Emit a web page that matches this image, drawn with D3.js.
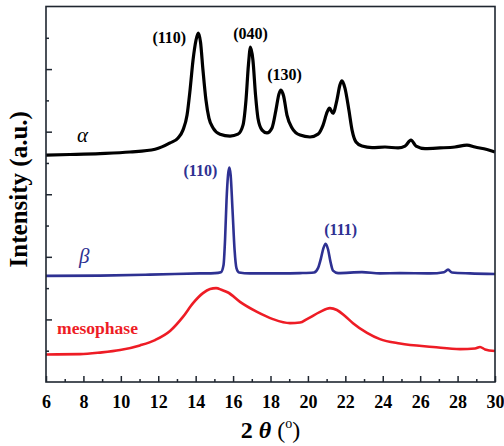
<!DOCTYPE html>
<html>
<head>
<meta charset="utf-8">
<script src="https://cdn.jsdelivr.net/npm/d3@7"></script>
<style>
  html, body { margin: 0; padding: 0; background: #fff; }
  svg { display: block; }
  text { font-family: "Liberation Serif", "Times New Roman", serif; }
</style>
</head>
<body>
<svg id="chart" width="504" height="446"></svg>
<script>
// ---- data (2θ in degrees, intensity in stacked arbitrary units) ----
const alphaTheta = [6.0, 7.28, 8.89, 10.49, 11.83, 12.63, 13.06, 13.32, 13.54, 13.70, 13.86, 14.02, 14.14, 14.26, 14.39, 14.55, 14.71, 14.93, 15.30, 15.84, 16.26, 16.53, 16.69, 16.82, 16.93, 17.06, 17.20, 17.33, 17.55, 17.81, 18.08, 18.29, 18.45, 18.56, 18.70, 18.88, 19.15, 19.58, 20.11, 20.54, 20.81, 21.03, 21.15, 21.34, 21.55, 21.71, 21.82, 21.98, 22.19, 22.36, 22.57, 22.89, 23.43, 24.12, 24.82, 25.19, 25.51, 25.78, 26.26, 27.06, 27.86, 28.50, 28.93, 29.57, 30.0];
const alphaI = [7.25, 7.27, 7.30, 7.35, 7.44, 7.64, 7.80, 8.05, 8.53, 9.33, 10.29, 10.93, 11.15, 10.86, 9.97, 9.01, 8.43, 8.12, 7.92, 7.86, 7.92, 8.21, 9.01, 10.13, 10.70, 10.29, 9.17, 8.43, 8.05, 7.96, 8.12, 8.69, 9.20, 9.33, 9.14, 8.53, 8.12, 7.89, 7.83, 7.92, 8.21, 8.63, 8.75, 8.59, 9.01, 9.49, 9.62, 9.39, 8.69, 8.05, 7.67, 7.54, 7.49, 7.51, 7.48, 7.54, 7.73, 7.54, 7.46, 7.48, 7.51, 7.57, 7.51, 7.43, 7.35];

const betaTheta = [6.0, 8.89, 11.56, 14.23, 15.03, 15.35, 15.49, 15.57, 15.65, 15.73, 15.80, 15.87, 15.97, 16.08, 16.18, 16.32, 16.90, 18.51, 19.58, 20.32, 20.54, 20.70, 20.83, 20.95, 21.07, 21.21, 21.34, 21.61, 22.89, 23.85, 24.92, 26.53, 27.27, 27.49, 27.70, 28.66, 30.0];
const betaI = [3.39, 3.40, 3.43, 3.47, 3.48, 3.51, 3.74, 4.54, 5.81, 6.61, 6.85, 6.61, 5.50, 4.22, 3.64, 3.50, 3.47, 3.47, 3.48, 3.50, 3.64, 3.96, 4.28, 4.42, 4.25, 3.83, 3.56, 3.48, 3.51, 3.47, 3.48, 3.47, 3.51, 3.59, 3.50, 3.47, 3.45];

const mesoTheta = [6.0, 7.82, 8.89, 9.96, 11.02, 11.83, 12.63, 13.32, 13.86, 14.39, 14.77, 15.09, 15.41, 15.73, 16.37, 17.28, 18.13, 19.04, 19.58, 19.95, 20.65, 21.18, 21.55, 21.98, 22.41, 23.16, 23.85, 24.92, 26.69, 28.13, 28.93, 29.20, 29.47, 30.0];
const mesoI = [0.88, 0.89, 0.94, 1.02, 1.17, 1.34, 1.63, 2.08, 2.52, 2.84, 2.97, 3.00, 2.94, 2.86, 2.56, 2.24, 2.01, 1.88, 1.90, 2.01, 2.24, 2.36, 2.30, 2.11, 1.88, 1.57, 1.37, 1.23, 1.12, 1.05, 1.07, 1.12, 1.04, 0.99];

const xMajorTicks = [6, 8, 10, 12, 14, 16, 18, 20, 22, 24, 26, 28, 30];
const xMinorTicks = [7, 9, 11, 13, 15, 17, 19, 21, 23, 25, 27, 29];
const yMajorTicks = [2, 4, 6, 8, 10];
const yMinorTicks = [1, 3, 5, 7, 9, 11];

const seriesNames = ["α", "β", "mesophase"];
const peakLabels = ["(110)", "(040)", "(130)", "(110)", "(111)"];
const peakTheta = [14.14, 16.93, 18.56, 15.80, 20.95];
const peakSeries = [0, 0, 0, 1, 1];

// ---- layout ----
const svg = d3.select("#chart");
const mLeft = 46, mRight = 495, mTop = 6.5, mBottom = 382;
const x = d3.scaleLinear().domain([6, 30]).range([mLeft, mRight]);
const y = d3.scaleLinear().domain([0, 12]).range([mBottom, mTop]);

const colors = ["#000000", "#2e3192", "#ee1c25"];
const widths = [3.2, 2.6, 2.6];
const thetas = [alphaTheta, betaTheta, mesoTheta];
const intens = [alphaI, betaI, mesoI];

const line = d3.line()
  .x(d => x(d[0]))
  .y(d => y(d[1]))
  .curve(d3.curveMonotoneX);

// curves
const g = svg.append("g");
for (let s = 2; s >= 0; s--) {
  const pts = thetas[s].map((t, i) => [t, intens[s][i]]);
  g.append("path")
    .datum(pts)
    .attr("d", line)
    .attr("fill", "none")
    .attr("stroke", colors[s])
    .attr("stroke-width", widths[s])
    .attr("stroke-linejoin", "round");
}

// axes ticks (inside)
const axisColor = "#1f2630";
const xAxisMajor = svg.append("g").attr("transform", `translate(0,${mBottom})`)
  .call(d3.axisBottom(x).tickValues(xMajorTicks).tickSize(-6).tickPadding(13).tickFormat(d3.format("d")));
const xAxisMinor = svg.append("g").attr("transform", `translate(0,${mBottom})`)
  .call(d3.axisBottom(x).tickValues(xMinorTicks).tickSize(-3).tickFormat(""));
const yAxisMajor = svg.append("g").attr("transform", `translate(${mLeft},0)`)
  .call(d3.axisLeft(y).tickValues(yMajorTicks).tickSize(-6).tickFormat(""));
const yAxisMinor = svg.append("g").attr("transform", `translate(${mLeft},0)`)
  .call(d3.axisLeft(y).tickValues(yMinorTicks).tickSize(-3).tickFormat(""));

[xAxisMajor, xAxisMinor, yAxisMajor, yAxisMinor].forEach(a => {
  a.select(".domain").remove();
  a.selectAll(".tick line").attr("stroke", axisColor).attr("stroke-width", 1.5);
});
xAxisMajor.selectAll(".tick text")
  .attr("font-weight", "bold")
  .attr("font-size", 18)
  .attr("fill", "#000");

// frame
svg.append("rect")
  .attr("x", mLeft).attr("y", mTop)
  .attr("width", mRight - mLeft).attr("height", mBottom - mTop)
  .attr("fill", "none")
  .attr("stroke", axisColor)
  .attr("stroke-width", 1.6);

// peak labels (offsets from the peak apex, in px)
const offX = [-29, 0, 3.5, -29, 15];
const offY = [10, -8, -10, 8, -9];
peakLabels.forEach((t, i) => {
  const s = peakSeries[i];
  const idx = thetas[s].indexOf(peakTheta[i]);
  const px = x(peakTheta[i]), py = y(intens[s][idx]);
  svg.append("text")
    .attr("x", px + offX[i]).attr("y", py + offY[i])
    .attr("text-anchor", "middle")
    .attr("font-weight", "bold")
    .attr("font-size", 16)
    .attr("fill", colors[s])
    .text(t);
});

// series names
svg.append("text").attr("x", 77).attr("y", 142)
  .attr("font-style", "italic").attr("font-size", 21).attr("fill", colors[0])
  .text(seriesNames[0]);
svg.append("text").attr("x", 79).attr("y", 263)
  .attr("font-style", "italic").attr("font-size", 21).attr("fill", colors[1])
  .text(seriesNames[1]);
svg.append("text").attr("x", 57).attr("y", 334)
  .attr("font-weight", "bold").attr("font-size", 16).attr("fill", colors[2])
  .attr("textLength", 81).attr("lengthAdjust", "spacingAndGlyphs")
  .text(seriesNames[2]);

// axis titles
const xt = svg.append("text")
  .attr("x", (mLeft + mRight) / 2).attr("y", 438)
  .attr("text-anchor", "middle")
  .attr("font-size", 24).attr("font-weight", "bold").attr("fill", "#000");
xt.append("tspan").text("2 ");
xt.append("tspan").attr("font-style", "italic").text("θ");
xt.append("tspan").attr("font-weight", "normal").text(" (");
xt.append("tspan").attr("font-weight", "normal").attr("font-size", 14).attr("dy", -10).text("o");
xt.append("tspan").attr("font-weight", "normal").attr("dy", 10).text(")");

svg.append("text")
  .attr("transform", `translate(27,${(mTop + mBottom) / 2 - 5}) rotate(-90)`)
  .attr("text-anchor", "middle")
  .attr("font-size", 25).attr("font-weight", "bold").attr("fill", "#000")
  .text("Intensity (a.u.)");
</script>
</body>
</html>
